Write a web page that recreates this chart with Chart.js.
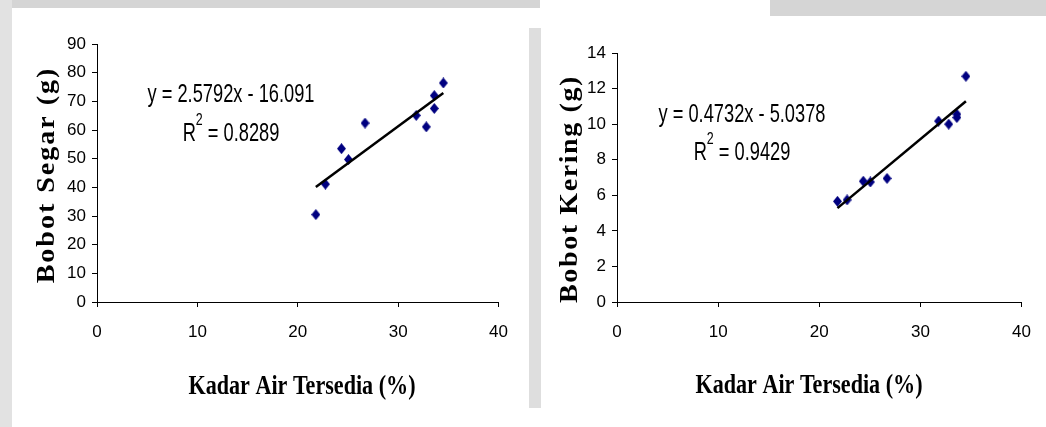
<!DOCTYPE html>
<html>
<head>
<meta charset="utf-8">
<script src="https://cdn.jsdelivr.net/npm/chart.js@4.4.0/dist/chart.umd.min.js"></script>
<style>
  body { margin: 0; background: #fff; width: 1046px; height: 427px; position: relative; overflow: hidden; }
  .wm { position: absolute; background: #d5d5d5; }
  .box { position: absolute; top: 0; width: 523px; height: 427px; }
</style>
</head>
<body>
<!-- faint scan background -->
<div class="wm" style="left:0;top:0;width:540px;height:8px"></div>
<div class="wm" style="left:770px;top:0;width:276px;height:16px"></div>
<div class="wm" style="left:0;top:0;width:12px;height:427px;background:#e2e2e2"></div>
<div class="wm" style="left:529px;top:28px;width:12px;height:380px;background:#dedede"></div>

<div class="box" style="left:0"><canvas id="segar"></canvas></div>
<div class="box" style="left:523px"><canvas id="kering"></canvas></div>

<script>
// measured values (Kadar air tersedia vs bobot)
const kadarAir = [21.8, 22.75, 24.35, 25.05, 26.7, 31.8, 32.8, 33.6, 33.6, 34.5];
const bobotSegar = [30.5, 41.1, 53.5, 49.7, 62.4, 65.1, 61.1, 72.0, 67.5, 76.4];
const bobotKering = [5.66, 5.74, 6.79, 6.75, 6.95, 10.17, 10.0, 10.56, 10.37, 12.69];

// trendline end points
const trendX = [21.8, 34.5];
const segarTrendY = [40.1, 72.9];
const keringTrendY = [5.28, 11.29];

const xTicks = [0, 10, 20, 30, 40];

const SANS = '"Liberation Sans", Arial, sans-serif';
const SERIF = '"Liberation Serif", "Times New Roman", serif';

// tall diamond marker
function diamond() {
    const c = document.createElement('canvas');
    c.width = 9; c.height = 11;
    const g = c.getContext('2d');
    g.fillStyle = '#000080';
    g.beginPath();
    g.moveTo(4.5, 0); g.lineTo(9, 5.5); g.lineTo(4.5, 11); g.lineTo(0, 5.5);
    g.closePath();
    g.fill();
    return c;
}
const marker = diamond();

function toPoints(xs, ys) {
    return xs.map((x, i) => ({ x: x, y: ys[i] }));
}

// draws axis titles and the trendline equation (horizontally condensed like the scan)
const labelsPlugin = {
    id: 'labels',
    afterDraw(chart, args, o) {
        const ctx = chart.ctx;
        ctx.save();
        ctx.fillStyle = '#000';

        // x title
        ctx.save();
        ctx.translate(o.xTitle.x, o.xTitle.y);
        ctx.scale(0.79, 1);
        ctx.font = 'bold 28px ' + SERIF;
        ctx.textAlign = 'center';
        ctx.textBaseline = 'alphabetic';
        ctx.fillText(o.xTitle.text, 0, 0);
        ctx.restore();

        // y title
        ctx.save();
        ctx.translate(o.yTitle.x, o.yTitle.y);
        ctx.scale(0.9, 1);
        ctx.rotate(-Math.PI / 2);
        ctx.font = 'bold 28px ' + SERIF;
        ctx.letterSpacing = o.yTitle.spacing + 'px';
        ctx.textAlign = 'center';
        ctx.textBaseline = 'alphabetic';
        ctx.fillText(o.yTitle.text, 0, 0);
        ctx.restore();

        // equation
        ctx.save();
        ctx.translate(o.eq.x, o.eq.y);
        ctx.scale(0.73, 1);
        ctx.font = '25px ' + SANS;
        ctx.textBaseline = 'alphabetic';
        ctx.textAlign = 'center';
        ctx.fillText(o.eq.line1, 0, 0);

        // R² line
        const gap = o.eq.gap;
        ctx.textAlign = 'left';
        const wR = ctx.measureText('R').width;
        const rest = ' = ' + o.eq.r2;
        const wRest = ctx.measureText(rest).width;
        ctx.font = '17px ' + SANS;
        const wSup = ctx.measureText('2').width;
        const total = wR + wSup + wRest;
        let x = -total / 2;
        ctx.font = '25px ' + SANS;
        ctx.fillText('R', x, gap);
        x += wR;
        ctx.font = '17px ' + SANS;
        ctx.fillText('2', x, gap - 16);
        x += wSup;
        ctx.font = '25px ' + SANS;
        ctx.fillText(rest, x, gap);
        ctx.restore();

        ctx.restore();
    }
};

function makeChart(id, yValues, trendY, yMax, yStep, box, labels) {
    new Chart(document.getElementById(id), {
        type: 'scatter',
        data: {
            datasets: [{
                type: 'line',
                data: toPoints(trendX, trendY),
                borderColor: '#000',
                borderWidth: 2.5,
                pointRadius: 0,
                fill: false,
                order: 0
            }, {
                data: toPoints(kadarAir, yValues),
                pointStyle: marker,
                pointRadius: 5,
                backgroundColor: '#000080',
                borderColor: '#000080',
                order: 1
            }]
        },
        options: {
            responsive: true,
            maintainAspectRatio: false,
            animation: false,
            layout: {
                padding: { left: 0, top: box.top, right: 523 - box.right, bottom: 0 }
            },
            plugins: {
                legend: { display: false },
                tooltip: { enabled: false },
                labels: labels
            },
            scales: {
                x: {
                    type: 'linear',
                    min: 0,
                    max: 40,
                    afterBuildTicks: s => { s.ticks = xTicks.map(v => ({ value: v })); },
                    afterFit: s => { s.height = 427 - box.bottom; },
                    ticks: { color: '#000', font: { family: SANS, size: 17 }, padding: 15 },
                    grid: { drawOnChartArea: false, color: '#000', tickColor: '#000', tickLength: 5 },
                    border: { color: '#000', width: 1 }
                },
                y: {
                    min: 0,
                    max: yMax,
                    ticks: { stepSize: yStep, color: '#000', font: { family: SANS, size: 17 }, padding: 6 },
                    afterFit: s => { s.width = box.left; },
                    grid: { drawOnChartArea: false, color: '#000', tickColor: '#000', tickLength: 5 },
                    border: { color: '#000', width: 1 }
                }
            }
        },
        plugins: [labelsPlugin]
    });
}

makeChart('segar', bobotSegar, segarTrendY, 90, 10,
    { left: 97, right: 506, top: 44, bottom: 302 },
    {
        xTitle: { text: 'Kadar Air Tersedia (%)', x: 302, y: 394 },
        yTitle: { text: 'Bobot Segar (g)', x: 54, y: 175, spacing: 2 },
        eq: { line1: 'y = 2.5792x - 16.091', r2: '0.8289', x: 231, y: 102, gap: 39 }
    });

makeChart('kering', bobotKering, keringTrendY, 14, 2,
    { left: 94, right: 501, top: 53, bottom: 302 },
    {
        xTitle: { text: 'Kadar Air Tersedia (%)', x: 286, y: 393 },
        yTitle: { text: 'Bobot Kering (g)', x: 54, y: 189, spacing: 1.6 },
        eq: { line1: 'y = 0.4732x - 5.0378', r2: '0.9429', x: 219, y: 122, gap: 38 }
    });
</script>
</body>
</html>
